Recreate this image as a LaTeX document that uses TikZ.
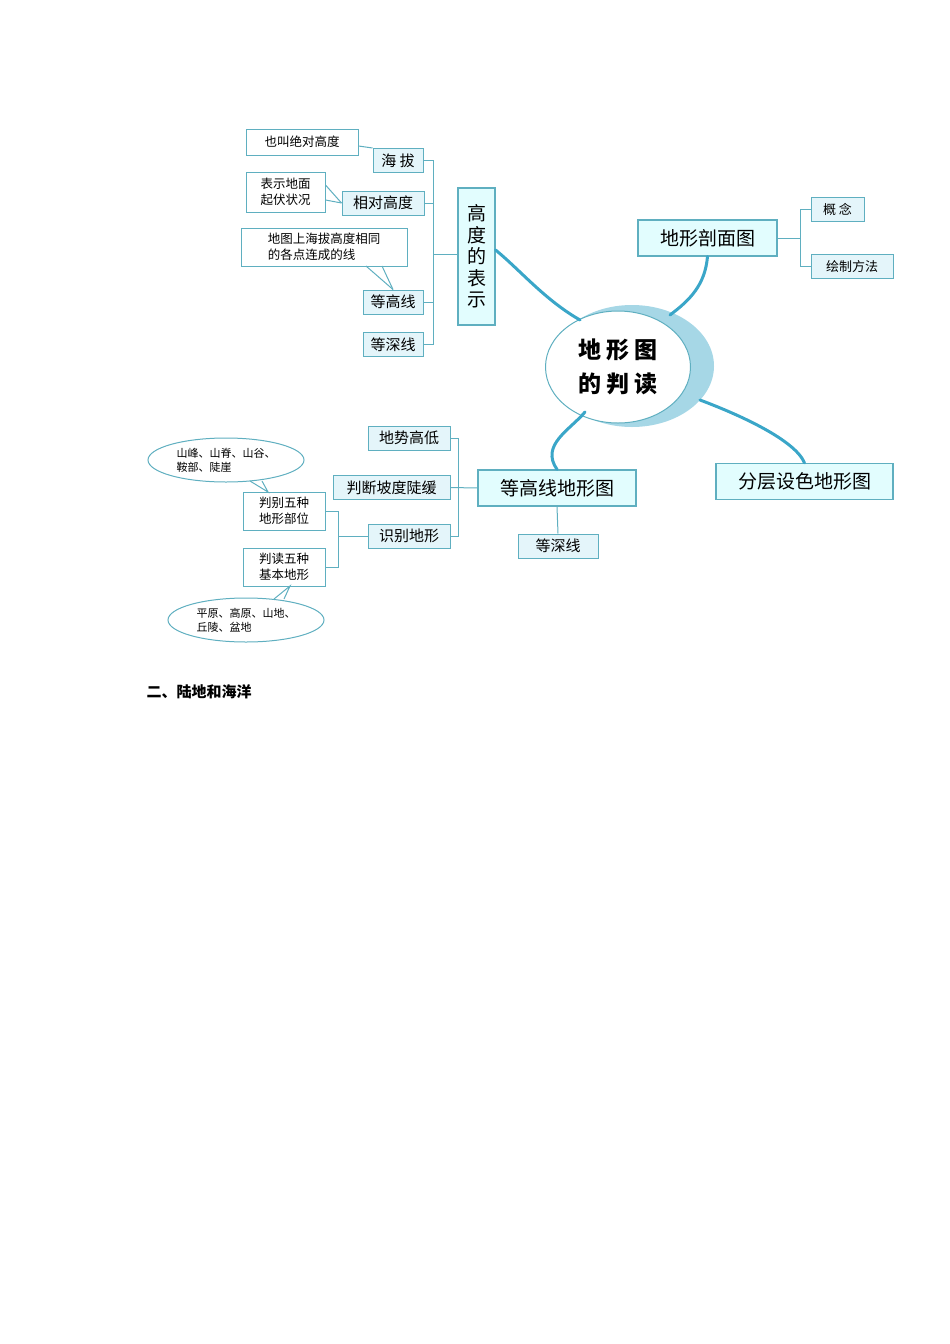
\documentclass[tikz,border=0pt]{standalone}
\usepackage{fontspec}
\setmainfont{Noto Sans CJK SC}
\usetikzlibrary{shapes.geometric}
\definecolor{bd}{HTML}{5FAFC0}
\definecolor{fl}{HTML}{E4F5FA}
\definecolor{br}{HTML}{3AA6C8}
\begin{document}
\begin{tikzpicture}[x=1pt,y=-1pt,
 bx/.style={draw=bd,fill=fl,line width=1pt,inner sep=2pt,font=\fontsize{15}{17}\selectfont,minimum height=24pt},
 big/.style={draw=bd,fill=fl!70!cyan!30,line width=1.2pt,inner sep=3pt,font=\fontsize{19}{21}\selectfont,minimum height=36pt},
 note/.style={draw=bd,fill=white,line width=1pt,font=\fontsize{12.5}{16}\selectfont,align=left,inner sep=3pt},
 ln/.style={draw=bd,line width=1pt},
 th/.style={draw=br,line width=3pt,line cap=round}]
\useasboundingbox (0,0) rectangle (950,1344);
% center
\fill[fill=br!45] (632,366) ellipse [x radius=82,y radius=61];
\node[ellipse,draw=bd,fill=white,line width=1pt,minimum width=145pt,minimum height=112pt,align=center,font=\fontsize{23}{34}\selectfont\bfseries] (c) at (618,367) {地 形 图\\的 判 读};
% main branches
\node[big,minimum width=37pt,minimum height=137pt,align=center,inner sep=0pt,font=\fontsize{19}{21.5}\selectfont] (h) at (476.5,256.5) {高\\度\\的\\表\\示};
\node[big,minimum width=139pt] (p) at (707.5,238) {地形剖面图};
\node[big,minimum width=177pt] (f) at (804.5,481.5) {分层设色地形图};
\node[big,minimum width=158pt] (d) at (557,488) {等高线地形图};
\draw[th] (h.east|-0,250) .. controls (520,270) and (545,300) .. (580,320);
\draw[th] (p.south) .. controls (705,285) and (690,300) .. (670,315);
\draw[th] (d.north) .. controls (540,445) and (570,430) .. (585,412);
\draw[th] (f.north) .. controls (795,440) and (740,415) .. (700,400);
% height group
\node[bx,minimum width=50pt] (hb) at (398,160.5) {海 拔};
\node[bx,minimum width=82pt] (xd) at (383,203) {相对高度};
\node[bx,minimum width=60pt] (dg) at (393,302) {等高线};
\node[bx,minimum width=60pt] (ds) at (393,344.5) {等深线};
\draw[ln] (hb.east) -- (433,160.5) -- (433,344.5) -- (ds.east);
\draw[ln] (xd.east) -- (433,203); \draw[ln] (dg.east) -- (433,302);
\draw[ln] (433,254) -- (h.west|-0,254);
\node[note,minimum width=112pt,minimum height=26pt] (n1) at (302,142) {也叫绝对高度};
\node[note,minimum width=79pt,minimum height=40pt] (n2) at (285.5,192) {表示地面\\起伏状况};
\node[note,minimum width=166pt,minimum height=38pt] (n3) at (324,247) {地图上海拔高度相同\\的各点连成的线};
\draw[ln] (n1.east|-0,146) -- (hb.north west) ; 
\draw[ln] (n2.east|-0,185) -- (xd.west);
\draw[ln] (n2.east|-0,200) -- (xd.west);
\draw[ln] (366,266) -- (dg.north); \draw[ln] (382,266) -- (dg.north);
% profile group
\node[bx,minimum width=53pt,font=\fontsize{13}{15}\selectfont] (gn) at (837.5,209) {概 念};
\node[bx,minimum width=82pt,font=\fontsize{13}{15}\selectfont] (hz) at (852,266.5) {绘制方法};
\draw[ln] (p.east) -- (800,238);
\draw[ln] (gn.west) -- (800,209) -- (800,266.5) -- (hz.west);
% contour group
\node[bx,minimum width=80pt] (sd) at (558,546) {等深线};
\draw[ln] (d.south) -- (sd.north);
\node[bx,minimum width=82pt] (gd) at (409,438) {地势高低};
\node[bx,minimum width=117pt] (pd) at (391.5,487.5) {判断坡度陡缓};
\node[bx,minimum width=82pt] (sb) at (409,536) {识别地形};
\draw[ln] (gd.east) -- (458,438) -- (458,536) -- (sb.east);
\draw[ln] (pd.east) -- (d.west);
\node[note,minimum width=82pt,minimum height=38pt,align=center] (bb) at (284,511) {判别五种\\地形部位};
\node[note,minimum width=82pt,minimum height=38pt,align=center] (bd2) at (284,567) {判读五种\\基本地形};
\draw[ln] (bb.east) -- (338,511) -- (338,567) -- (bd2.east);
\draw[ln] (338,536) -- (sb.west);
\node[ellipse,draw=bd,line width=1pt,fill=white,minimum width=156pt,minimum height=44pt,font=\fontsize{11}{14}\selectfont,align=left,inner sep=0pt] (e1) at (226,460) {山峰、山脊、山谷、\\鞍部、陡崖};
\node[ellipse,draw=bd,line width=1pt,fill=white,minimum width=156pt,minimum height=44pt,font=\fontsize{11}{14}\selectfont,align=left,inner sep=0pt] (e2) at (246,620) {平原、高原、山地、\\丘陵、盆地};
\draw[ln] (250,481) -- (268,492) -- (262,481);
\draw[ln] (274,599) -- (290,586) -- (284,599);
\node[anchor=west,font=\fontsize{15}{17}\selectfont\bfseries] (t) at (143,692) {二、陆地和海洋};
\end{tikzpicture}
\end{document}
